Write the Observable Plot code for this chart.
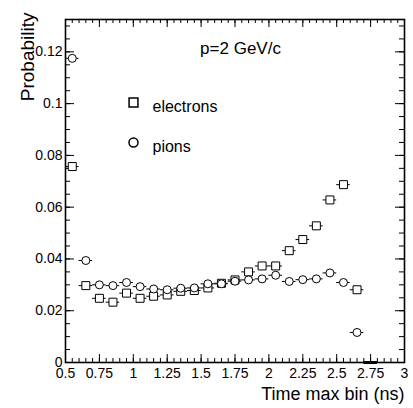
<!DOCTYPE html>
<html><head><meta charset="utf-8">
<script src="https://cdn.jsdelivr.net/npm/d3@7"></script>
<script src="https://cdn.jsdelivr.net/npm/@observablehq/plot@0.6"></script>
<style>html,body{margin:0;padding:0;background:#fff} svg{display:block}</style>
</head><body><div id="chart"></div>
<script>
// ---- data ----
const binCenters = [0.55, 0.65, 0.75, 0.85, 0.95, 1.05, 1.15, 1.25, 1.35, 1.45, 1.55, 1.65,
                    1.75, 1.85, 1.95, 2.05, 2.15, 2.25, 2.35, 2.45, 2.55, 2.65, 2.75];
const electrons = [0.0757, 0.0297, 0.0248, 0.0233, 0.0268, 0.0248, 0.0256, 0.0261, 0.0275, 0.0278,
                   0.0288, 0.0306, 0.0319, 0.0350, 0.0373, 0.0373, 0.0432, 0.0475, 0.0528, 0.0628,
                   0.0687, 0.0281];
const pions = [0.1175, 0.0394, 0.0300, 0.0297, 0.0309, 0.0293, 0.0284, 0.0281, 0.0287, 0.0288,
               0.0304, 0.0304, 0.0314, 0.0319, 0.0323, 0.0337, 0.0313, 0.0320, 0.0323, 0.0346,
               0.0309, 0.0116, 0];
const binHalfWidth = 0.05;
const xMajorTicks = [0.5, 0.75, 1, 1.25, 1.5, 1.75, 2, 2.25, 2.5, 2.75, 3];
const yMajorTicks = [0, 0.02, 0.04, 0.06, 0.08, 0.1, 0.12];
const xDomain = [0.5, 3];
const yDomain = [0, 0.1325];
const legendLabels = ["electrons", "pions"];
const annotation = "p=2 GeV/c";
const xTitle = "Time max bin (ns)";
const yTitle = "Probability";

// ---- layout ----
const W = 413, H = 408, mL = 65, mR = 9, mT = 19, mB = 46;
const innerW = W - mL - mR, innerH = H - mT - mB;
const xMinorTicks = d3.range(0, 51).map(i => +(0.5 + i * 0.05).toFixed(2));
const yMinorTicks = d3.range(0, 27).map(i => +(i * 0.005).toFixed(3));

const eData = electrons.map((v, i) => ({x: binCenters[i], y: v}));
const pData = pions.map((v, i) => ({x: binCenters[i], y: v}));

const font = "'Liberation Sans', Arial, Helvetica, sans-serif";

const chart = Plot.plot({
  width: W, height: H,
  marginLeft: mL, marginRight: mR, marginTop: mT, marginBottom: mB,
  style: {fontFamily: font, fontSize: "14px", background: "white", color: "black"},
  x: {domain: xDomain, axis: null},
  y: {domain: yDomain, axis: null},
  marks: [
    // tick marks (inside, all four sides)
    Plot.ruleX(xMinorTicks, {x: d => d, insetTop: innerH - 4, stroke: "black"}),
    Plot.ruleX(xMajorTicks, {x: d => d, insetTop: innerH - 8, stroke: "black"}),
    Plot.ruleX(xMinorTicks, {x: d => d, insetBottom: innerH - 4, stroke: "black"}),
    Plot.ruleX(xMajorTicks, {x: d => d, insetBottom: innerH - 8, stroke: "black"}),
    Plot.ruleY(yMinorTicks, {y: d => d, insetRight: innerW - 5, stroke: "black"}),
    Plot.ruleY(yMajorTicks, {y: d => d, insetRight: innerW - 9, stroke: "black"}),
    Plot.ruleY(yMinorTicks, {y: d => d, insetLeft: innerW - 5, stroke: "black"}),
    Plot.ruleY(yMajorTicks, {y: d => d, insetLeft: innerW - 9, stroke: "black"}),
    Plot.frame({stroke: "black", strokeWidth: 1.6}),
    // tick labels
    Plot.axisX({ticks: xMajorTicks, tickSize: 0, tickPadding: 6, label: null, fontSize: 14,
                tickFormat: d => String(d)}),
    Plot.axisY({ticks: yMajorTicks, tickSize: 0, tickPadding: 3, label: null, fontSize: 14,
                tickFormat: d => String(d)}),
    // horizontal bin-width bars
    Plot.ruleY(eData, {y: "y", x1: d => d.x - binHalfWidth, x2: d => d.x + binHalfWidth, stroke: "black"}),
    Plot.ruleY(pData, {y: "y", x1: d => d.x - binHalfWidth, x2: d => d.x + binHalfWidth, stroke: "black",
                       strokeWidth: d => d.y === 0 ? 3 : 1}),
    // markers
    Plot.dot(eData, {x: "x", y: "y", symbol: "square", r: 4.5, fill: "white", stroke: "black", strokeWidth: 1}),
    Plot.dot(pData.filter(d => d.y > 0), {x: "x", y: "y", symbol: "circle", r: 4, fill: "white", stroke: "black", strokeWidth: 1}),
    // legend
    Plot.dot([0], {frameAnchor: "top-left", dx: 68, dy: 83, symbol: "square", r: 5, fill: "white", stroke: "black"}),
    Plot.dot([0], {frameAnchor: "top-left", dx: 68, dy: 123, symbol: "circle", r: 4.5, fill: "white", stroke: "black"}),
    Plot.text([legendLabels[0]], {frameAnchor: "top-left", dx: 87, dy: 81, textAnchor: "start", fontSize: 16, fill: "black"}),
    Plot.text([legendLabels[1]], {frameAnchor: "top-left", dx: 87, dy: 121, textAnchor: "start", fontSize: 16, fill: "black"}),
    // annotation
    Plot.text([annotation], {frameAnchor: "top-left", dx: 175, dy: 22, textAnchor: "middle", fontSize: 17, fill: "black"}),
    // axis titles
    Plot.text([xTitle], {frameAnchor: "bottom-right", dy: 37, textAnchor: "end", fontSize: 18, fill: "black"}),
    Plot.text([yTitle], {frameAnchor: "top-left", dx: -45, dy: -7, rotate: -90, textAnchor: "end", fontSize: 19, fill: "black"})
  ]
});
document.getElementById("chart").appendChild(chart);
</script>
</body></html>
